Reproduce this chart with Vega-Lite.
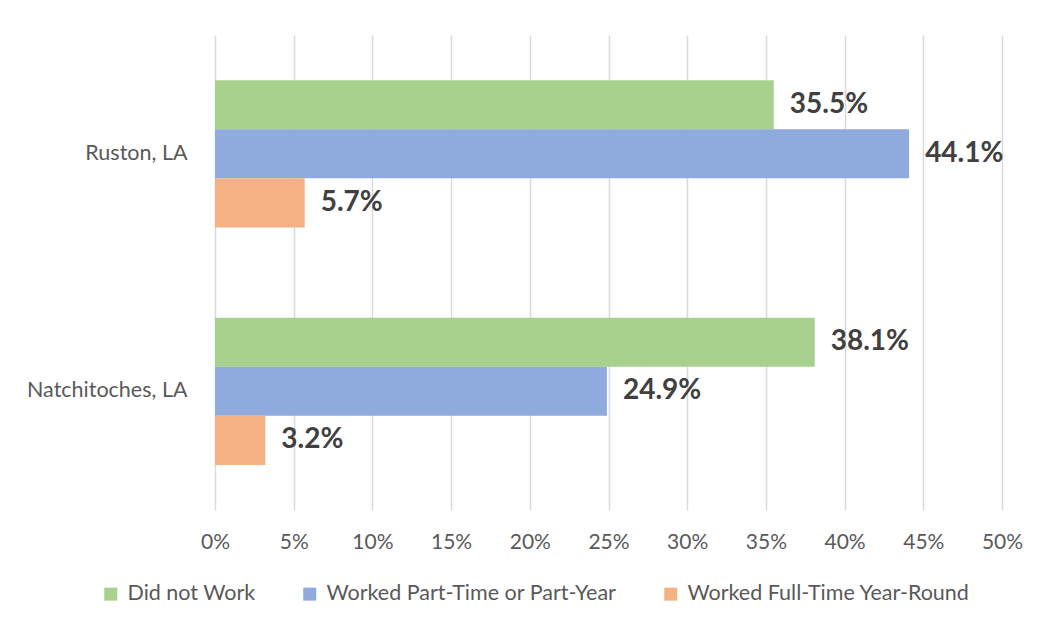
{
  "$schema": "https://vega.github.io/schema/vega-lite/v6.json",
  "autosize": {"type": "none"},
  "width": 787,
  "height": 475,
  "padding": {"left": 215, "top": 35, "right": 38, "bottom": 117},
  "background": "white",
  "data": {"values": [
    {"city": "Ruston, LA", "status": "Did not Work", "value": 0.355},
    {"city": "Ruston, LA", "status": "Worked Part-Time or Part-Year", "value": 0.441},
    {"city": "Ruston, LA", "status": "Worked Full-Time Year-Round", "value": 0.057},
    {"city": "Natchitoches, LA", "status": "Did not Work", "value": 0.381},
    {"city": "Natchitoches, LA", "status": "Worked Part-Time or Part-Year", "value": 0.249},
    {"city": "Natchitoches, LA", "status": "Worked Full-Time Year-Round", "value": 0.032}
  ]},
  "encoding": {
    "y": {"field": "city", "type": "nominal", "sort": ["Ruston, LA", "Natchitoches, LA"],
      "scale": {"paddingInner": 0.38, "paddingOuter": 0.19},
      "axis": {"title": null, "ticks": false, "domain": false, "labelPadding": 28, "labelFont": "Lato", "labelFontSize": 21.5, "labelColor": "#595959", "labelLimit": 300}},
    "yOffset": {"field": "status", "type": "nominal",
      "sort": ["Did not Work", "Worked Part-Time or Part-Year", "Worked Full-Time Year-Round"],
      "scale": {"paddingInner": 0, "paddingOuter": 0}},
    "x": {"field": "value", "type": "quantitative",
      "scale": {"domain": [0, 0.5], "nice": false},
      "axis": {"title": null, "format": ".0%", "values": [0, 0.05, 0.1, 0.15, 0.2, 0.25, 0.3, 0.35, 0.4, 0.45, 0.5],
        "ticks": false, "domain": false, "grid": true, "gridColor": "#D9D9D9", "gridWidth": 1.5, "labelFlush": false,
        "labelPadding": 21, "labelFont": "Lato", "labelFontSize": 21, "labelColor": "#595959"}}
  },
  "layer": [
    {
      "mark": {"type": "bar"},
      "encoding": {
        "color": {"field": "status", "type": "nominal",
          "sort": ["Did not Work", "Worked Part-Time or Part-Year", "Worked Full-Time Year-Round"],
          "scale": {"domain": ["Did not Work", "Worked Part-Time or Part-Year", "Worked Full-Time Year-Round"], "range": ["#A9D18E", "#8FAADC", "#F4B183"]},
          "legend": {"title": null, "orient": "none", "direction": "horizontal", "legendX": -115, "legendY": 548,
            "symbolType": "square", "symbolSize": 169, "symbolStrokeWidth": 0, "labelOffset": 6, "columnPadding": 43, "labelLimit": 500,
            "labelFont": "Lato", "labelFontSize": 21.5, "labelColor": "#595959"}}
      }
    },
    {
      "mark": {"type": "text", "align": "left", "baseline": "middle", "dx": 16, "font": "Lato", "fontWeight": "bold", "fontSize": 28, "color": "#404040"},
      "encoding": {
        "text": {"field": "value", "type": "quantitative", "format": ".1%"}
      }
    }
  ],
  "config": {"view": {"stroke": null}}
}
